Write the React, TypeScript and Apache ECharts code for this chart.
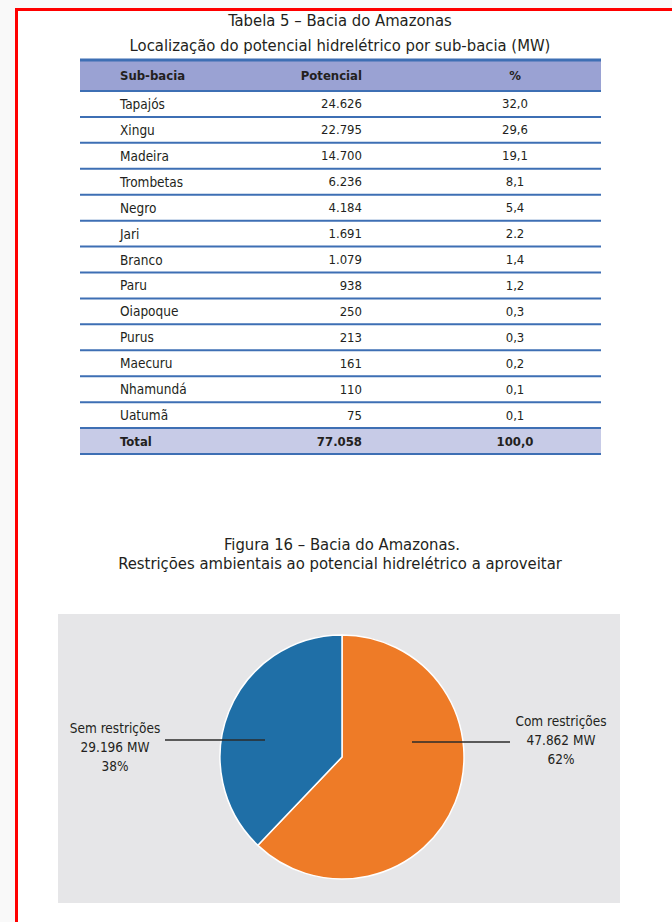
import React, { useEffect, useRef } from 'react';
import * as echarts from 'echarts';

const tableTitle = ['Tabela 5 – Bacia do Amazonas', 'Localização do potencial hidrelétrico por sub-bacia (MW)'];
const tableHeaders = ['Sub-bacia', 'Potencial', '%'];
const subBasins = ['Tapajós', 'Xingu', 'Madeira', 'Trombetas', 'Negro', 'Jari', 'Branco', 'Paru', 'Oiapoque', 'Purus', 'Maecuru', 'Nhamundá', 'Uatumã'];
const potentials = [24626, 22795, 14700, 6236, 4184, 1691, 1079, 938, 250, 213, 161, 110, 75];
const percentLabels = ['32,0', '29,6', '19,1', '8,1', '5,4', '2.2', '1,4', '1,2', '0,3', '0,3', '0,2', '0,1', '0,1'];
const totalLabel = 'Total';
const totalPotential = 77058;
const totalPercent = '100,0';

const figureTitle = ['Figura 16 – Bacia do Amazonas.', 'Restrições ambientais ao potencial hidrelétrico a aproveitar'];
const pieCategories = ['Com restrições', 'Sem restrições'];
const pieValues = [47862, 29196];
const pieColors = ['#ee7b27', '#1f6fa7'];

const FONT = '"DejaVu Sans Condensed", "Liberation Sans Narrow", "DejaVu Sans", sans-serif';
const TXT = '#231f20';

const fmt = (n: number) => String(n).replace(/\B(?=(\d{3})+(?!\d))/g, '.');

function text(str: string, x: number, y: number, align: string, size: number, bold = false) {
  return {
    type: 'text',
    silent: true,
    style: {
      text: str,
      x,
      y,
      fill: TXT,
      fontSize: size,
      fontFamily: FONT,
      fontWeight: bold ? 'bold' : 'normal',
      align,
      verticalAlign: 'middle',
      textAlign: align,
      textVerticalAlign: 'middle',
    },
  };
}

// label guide lines, [from, to] pixel layout for each pie slice (layout only)
const guideLines = [
  [[412, 742], [510, 742]],
  [[265, 740], [165, 740]],
];

function buildGraphic() {
  const els: any[] = [];
  // page + frame
  els.push({ type: 'rect', silent: true, shape: { x: 18, y: 11, width: 654, height: 911 }, style: { fill: '#ffffff' } });
  els.push({ type: 'rect', silent: true, shape: { x: 15, y: 8, width: 657, height: 3 }, style: { fill: '#ff0000' } });
  els.push({ type: 'rect', silent: true, shape: { x: 15, y: 8, width: 3, height: 914 }, style: { fill: '#ff0000' } });

  // table titles
  els.push(text(tableTitle[0], 340, 20, 'center', 16.5));
  els.push(text(tableTitle[1], 340, 45, 'center', 16.5));

  const left = 80;
  const right = 601;
  const headTop = 60;
  const headBottom = 91;
  const rowH = 25.93;
  const nameX = 120;
  const potX = 362;
  const pctX = 515;

  els.push({ type: 'rect', silent: true, shape: { x: left, y: headTop, width: right - left, height: headBottom - headTop }, style: { fill: '#9aa2d3' } });
  const totalTop = headBottom + subBasins.length * rowH;
  els.push({ type: 'rect', silent: true, shape: { x: left, y: totalTop, width: right - left, height: rowH }, style: { fill: '#c7cbe7' } });

  // lines
  els.push({ type: 'line', silent: true, shape: { x1: left, y1: headTop, x2: right, y2: headTop }, style: { stroke: '#3e6fb4', lineWidth: 3 } });
  for (let k = 0; k <= subBasins.length + 1; k++) {
    const y = headBottom + k * rowH;
    els.push({ type: 'line', silent: true, shape: { x1: left, y1: y, x2: right, y2: y }, style: { stroke: '#3e6fb4', lineWidth: 2 } });
  }

  // header
  const hy = (headTop + headBottom) / 2;
  els.push(text(tableHeaders[0], nameX, hy, 'left', 13, true));
  els.push(text(tableHeaders[1], potX, hy, 'right', 13, true));
  els.push(text(tableHeaders[2], pctX, hy, 'center', 13, true));

  subBasins.forEach((name, i) => {
    const y = headBottom + i * rowH + rowH / 2;
    els.push(text(name, nameX, y, 'left', 13.5));
    els.push(text(fmt(potentials[i]), potX, y, 'right', 13));
    els.push(text(percentLabels[i], pctX, y, 'center', 13));
  });
  const ty = totalTop + rowH / 2;
  els.push(text(totalLabel, nameX, ty, 'left', 13, true));
  els.push(text(fmt(totalPotential), potX, ty, 'right', 13, true));
  els.push(text(totalPercent, pctX, ty, 'center', 13, true));

  // figure titles
  els.push(text(figureTitle[0], 342, 544, 'center', 16.5));
  els.push(text(figureTitle[1], 340, 563, 'center', 16.5));

  // panel
  els.push({ type: 'rect', silent: true, shape: { x: 58, y: 614, width: 562, height: 289 }, style: { fill: '#e6e6e8' } });

  // guide lines over the pie
  guideLines.forEach((g) => {
    els.push({
      type: 'line',
      silent: true,
      z: 100,
      shape: { x1: g[0][0], y1: g[0][1], x2: g[1][0], y2: g[1][1] },
      style: { stroke: '#2b2b2b', lineWidth: 1.4 },
    });
  });
  return els;
}

export default function App() {
  const ref = useRef<HTMLDivElement>(null);
  useEffect(() => {
    if (!ref.current) return;
    const chart = echarts.init(ref.current, null, { renderer: 'svg' });
    const labelSpots = [
      { x: 561, y: 740 },
      { x: 115, y: 747 },
    ];
    chart.setOption({
      animation: false,
      backgroundColor: '#f9f9f9',
      graphic: { elements: buildGraphic() },
      series: [
        {
          type: 'pie',
          center: [342, 757],
          radius: 122,
          startAngle: 90,
          clockwise: true,
          avoidLabelOverlap: false,
          silent: true,
          itemStyle: { borderColor: '#ffffff', borderWidth: 1.5 },
          label: {
            show: true,
            position: 'outside',
            fontFamily: FONT,
            fontSize: 13.5,
            lineHeight: 19,
            color: TXT,
            align: 'center',
            formatter: (p: any) => `${p.name}\n${fmt(p.value)} MW\n${Math.round(p.percent)}%`,
          },
          labelLine: { show: false },
          labelLayout: (p: any) => {
            const s = labelSpots[p.dataIndex];
            return { x: s.x, y: s.y, align: 'center', verticalAlign: 'middle' };
          },
          data: pieCategories.map((name, i) => ({ name, value: pieValues[i], itemStyle: { color: pieColors[i] } })),
        },
      ],
    });
    return () => chart.dispose();
  }, []);
  return <div ref={ref} style={{ position: 'absolute', left: 0, top: 0, width: 672, height: 922 }} />;
}
